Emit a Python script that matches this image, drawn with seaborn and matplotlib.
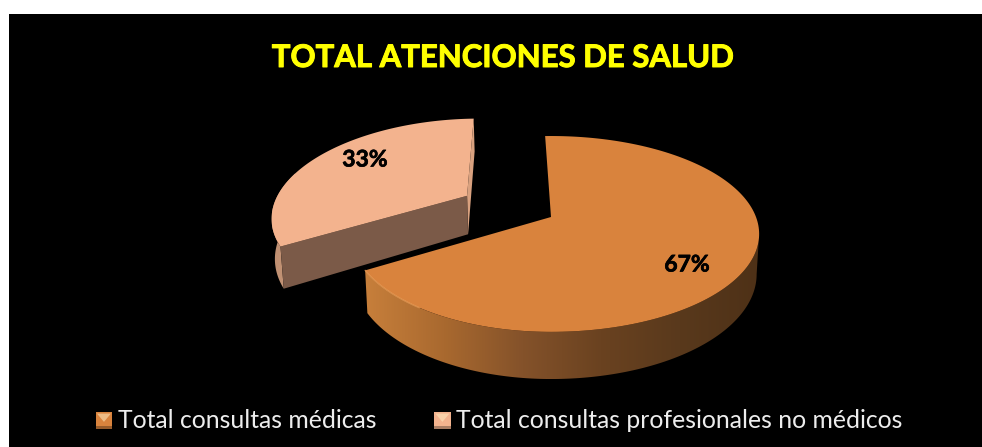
import numpy as np
import matplotlib
matplotlib.use("Agg")
import matplotlib.pyplot as plt
import matplotlib.patheffects as pe
import seaborn as sns
from matplotlib.colors import LinearSegmentedColormap
from matplotlib.legend_handler import HandlerPatch
from matplotlib.patches import Patch, Polygon

# data
categories = ["Total consultas médicas", "Total consultas profesionales no médicos"]
values = [67, 33]
labels = ["67%", "33%"]
title = "TOTAL ATENCIONES DE SALUD"

# pie position on the canvas, in pixels
CX, CY = 551, 217
A, B, P = 205, 95, 0.173
EXPLODE = 0.485
DEPTH = [39, 40]
FOOT = 0.988  # lower edge of the walls is a bit narrower
LEFT_SQUEEZE = 0.962  # far side of the pie is a bit narrower

sns.set_theme(style="dark")
plt.rcParams["font.family"] = ["Lato", "DejaVu Sans"]
colors = sns.color_palette(["#D9833D", "#F3B38E"])


def project(u, v, drop=0.0):
    # perspective view of the plane of the pie
    w = 1 + P * v
    x = CX + A * u / w
    if drop:
        x = CX + (x - CX) * FOOT
    return x, CY - B * v / w + drop / w


def rim(a1, a2, offset=(0, 0), drop=0.0, n=200, vscale=1.0):
    t = np.radians(np.linspace(a1, a2, n))
    u = np.cos(t)
    u = np.where(u < 0, u * LEFT_SQUEEZE, u)
    return project(u + offset[0], np.sin(t) * vscale + offset[1], drop)


def side_wall(a1, a2, offset, depth, shades, zorder, vscale=1.0):
    x1, y1 = rim(a1, a2, offset, vscale=vscale)
    x2, y2 = rim(a1, a2, offset, depth, vscale=vscale)
    xy = np.column_stack([np.r_[x1, x2[::-1]], np.r_[y1, y2[::-1]]])
    poly = Polygon(xy, closed=True, fc="none", ec="none", zorder=zorder)
    ax.add_patch(poly)
    x0, x3 = xy[:, 0].min(), xy[:, 0].max()
    y0, y3 = xy[:, 1].min(), xy[:, 1].max()
    cmap = LinearSegmentedColormap.from_list("wall", shades)
    im = ax.imshow(np.linspace(0, 1, 256)[None, :], cmap=cmap, extent=(x0, x3, y3, y0),
                   aspect="auto", zorder=zorder)
    im.set_clip_path(poly)


fig = plt.figure(figsize=(9.82, 4.47), dpi=100, facecolor="white")
ax = fig.add_axes([9 / 982, 0, 973 / 982, 433 / 447])
ax.set_xlim(9, 982)
ax.set_ylim(447, 14)
ax.set_axis_off()
ax.add_patch(plt.Rectangle((9, 14), 973, 433, fc="black", ec="none", zorder=0))

# slice angles follow the values, clockwise from the top
sweep = np.array(values) / sum(values) * 360
a_start = 92
a_med = a_start - sweep[0]
mid = np.radians(a_start + sweep[1] / 2)
off = (EXPLODE * np.cos(mid), EXPLODE * np.sin(mid))

# medical slice: outer wall with gradient, then top face
side_wall(a_med, -10, (0, 0), DEPTH[0],
          ["#C77F3B", "#A9692F", "#84522A", "#6A4220", "#59391C", "#4E3117"], 2)
xt, yt = rim(a_start, a_med)
ax.fill(np.r_[CX, xt], np.r_[CY, yt], color=colors[0], lw=0, zorder=3)
xr, yr = rim(a_med, -125)
ax.plot(xr, yr, color="#F0A25A", lw=1.0, alpha=0.7, zorder=4)

# other slice
a_end = a_med + 360
vs = 1.03
ox, oy = project(*off)
xb, yb = project(off[0], off[1], DEPTH[1])
xa, ya = rim(a_end, a_end, off, n=2, vscale=vs)
xa2, ya2 = rim(a_end, a_end, off, DEPTH[1], n=2, vscale=vs)
ax.fill([ox, xa[0], xa2[0], xb], [oy, ya[0], ya2[0], yb], color="#7B5A48", lw=0, zorder=6)
side_wall(a_end, 165, off, DEPTH[1], ["#BE8E70", "#C99A7C"], 5, vscale=vs)
xe, ye = rim(a_start, a_start, off, n=2, vscale=vs)
xe2, ye2 = rim(a_start, a_start, off, DEPTH[1], n=2, vscale=vs)
ax.fill([ox, xe[0], xe2[0], xb], [oy, ye[0], ye2[0], yb], color="#D9A17F", lw=0, zorder=5)
xp, yp = rim(a_start, a_end, off, vscale=vs)
ax.fill(np.r_[ox, xp], np.r_[oy, yp], color=colors[1], lw=0, zorder=7)

thicker = [pe.withStroke(linewidth=0.5, foreground="black")]
ax.text(687, 265, labels[0], color="black", fontsize=16.5, fontweight="bold",
        ha="center", va="center", zorder=9, path_effects=thicker)
ax.text(365, 160, labels[1], color="black", fontsize=16.5, fontweight="bold",
        ha="center", va="center", zorder=9, path_effects=thicker)

ax.text(503, 58, title, color="#FFFF00", fontsize=22.4, fontweight="bold",
        ha="center", va="center", zorder=9,
        path_effects=[pe.withStroke(linewidth=0.7, foreground="#FFFF00")])


class BevelHandler(HandlerPatch):
    # small square legend key with a bevelled look
    def create_artists(self, legend, orig_handle, xdescent, ydescent, width, height, fontsize, trans):
        base = orig_handle.get_facecolor()
        s = 12
        x0, y0 = -xdescent, -ydescent - 1
        sq = plt.Rectangle((x0, y0), s, s, fc=base, ec="none", transform=trans)
        tri = Polygon([(x0 + 1, y0 + s - 1), (x0 + s - 1, y0 + s - 1), (x0 + s / 2, y0 + s * 0.42)],
                      fc=(1, 0.92, 0.75, 0.55), ec="none", transform=trans)
        low = plt.Rectangle((x0, y0), s, s * 0.15, fc=(0, 0, 0, 0.3), ec="none", transform=trans)
        return [sq, tri, low]


handles = [Patch(facecolor=c, label=n) for c, n in zip(colors, categories)]
leg = ax.legend(handles=handles, handler_map={Patch: BevelHandler()}, loc="center",
                bbox_to_anchor=(490 / 973, (447 - 420) / 433), ncol=2, frameon=False,
                fontsize=17.85, labelcolor="#EDEDED", handlelength=0.6, handletextpad=0.285,
                columnspacing=2.34, borderpad=0, borderaxespad=0)
leg.set_zorder(9)

fig.savefig("out.png", dpi=100, facecolor="white")
